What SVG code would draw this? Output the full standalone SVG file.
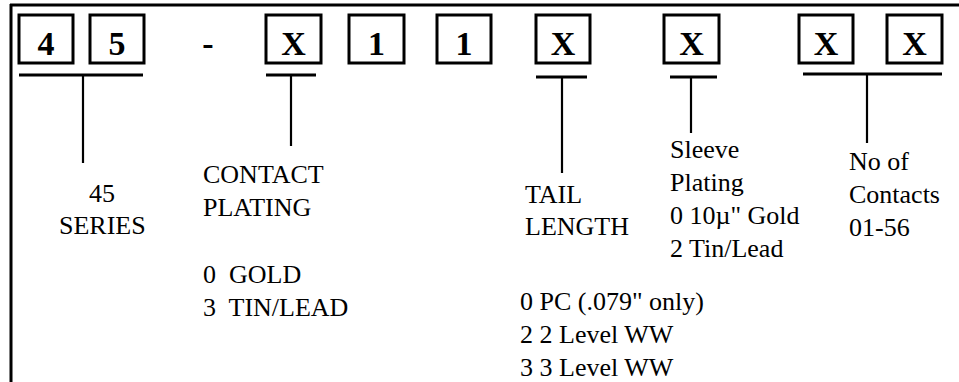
<svg xmlns="http://www.w3.org/2000/svg" width="959" height="382" viewBox="0 0 959 382">
<style>
.box rect{fill:#fff;stroke:#000;stroke-width:3}
.box text{font-family:"Liberation Serif",serif;font-weight:bold;font-size:34px;text-anchor:middle;fill:#000}
.lbl{font-family:"Liberation Serif","Times New Roman",serif;font-size:26px;fill:#000}
.c line{stroke:#000}
.u{stroke-width:3}
.v{stroke-width:2.2}
</style>
<rect width="959" height="382" fill="#fff"/>
<g id="frame">
<line x1="10" y1="5" x2="959" y2="5" stroke="#000" stroke-width="3"/>
<line x1="11" y1="4" x2="11" y2="382" stroke="#000" stroke-width="3"/>
</g>
<g id="b4" class="box"><rect x="19" y="15" width="54" height="48"/><text x="46" y="55">4</text></g>
<g id="b5" class="box"><rect x="90" y="15" width="54" height="48"/><text x="117" y="55">5</text></g>
<g id="dash" class="box"><text x="208" y="55">-</text></g>
<g id="bX1" class="box"><rect x="266" y="15" width="55" height="48"/><text x="293.5" y="55">X</text></g>
<g id="b1a" class="box"><rect x="349" y="15" width="55" height="48"/><text x="376.5" y="55">1</text></g>
<g id="b1b" class="box"><rect x="437" y="15" width="54" height="48"/><text x="464" y="55">1</text></g>
<g id="bX2" class="box"><rect x="536" y="15" width="54" height="48"/><text x="563" y="55">X</text></g>
<g id="bX3" class="box"><rect x="664" y="15" width="55" height="48"/><text x="691.5" y="55">X</text></g>
<g id="bX4" class="box"><rect x="799" y="15" width="54" height="48"/><text x="826" y="55">X</text></g>
<g id="bX5" class="box"><rect x="887" y="15" width="55" height="48"/><text x="914.5" y="55">X</text></g>
<g id="connectors" class="c">
<line class="u" x1="19" y1="75" x2="143" y2="75"/>
<line class="v" x1="83" y1="75" x2="83" y2="163"/>
<line class="u" x1="266" y1="75" x2="316" y2="75"/>
<line class="v" x1="291" y1="75" x2="291" y2="146"/>
<line class="u" x1="536" y1="77" x2="587" y2="77"/>
<line class="v" x1="562" y1="77" x2="562" y2="173"/>
<line class="u" x1="670" y1="77" x2="717" y2="77"/>
<line class="v" x1="691" y1="77" x2="691" y2="133"/>
<line class="u" x1="803" y1="74" x2="942" y2="74"/>
<line class="v" x1="867" y1="74" x2="867" y2="143"/>
</g>
<g id="series">
<text class="lbl" x="102" y="202" text-anchor="middle">45</text>
<text class="lbl" x="59" y="234">SERIES</text>
</g>
<g id="contact">
<text class="lbl" x="203" y="183">CONTACT</text>
<text class="lbl" x="203" y="216">PLATING</text>
<text class="lbl" x="203" y="283" xml:space="preserve">0  GOLD</text>
<text class="lbl" x="203" y="316" xml:space="preserve">3  TIN/LEAD</text>
</g>
<g id="tail">
<text class="lbl" x="525" y="203">TAIL</text>
<text class="lbl" x="525" y="235">LENGTH</text>
<text class="lbl" x="520" y="310">0 PC (.079" only)</text>
<text class="lbl" x="520" y="343">2 2 Level WW</text>
<text class="lbl" x="520" y="376">3 3 Level WW</text>
</g>
<g id="sleeve">
<text class="lbl" x="670" y="158">Sleeve</text>
<text class="lbl" x="670" y="191">Plating</text>
<text class="lbl" x="670" y="224">0 10µ" Gold</text>
<text class="lbl" x="670" y="257">2 Tin/Lead</text>
</g>
<g id="contacts">
<text class="lbl" x="849" y="170">No of</text>
<text class="lbl" x="849" y="203">Contacts</text>
<text class="lbl" x="849" y="236">01-56</text>
</g>
</svg>
